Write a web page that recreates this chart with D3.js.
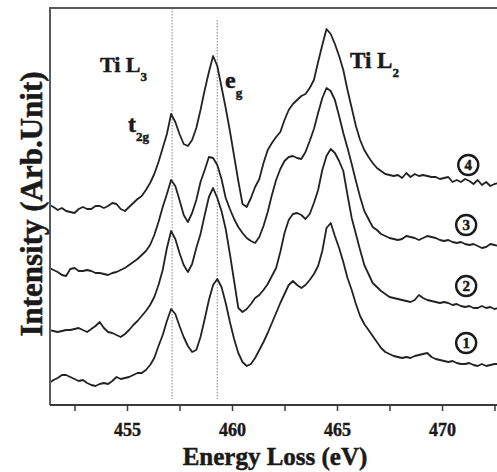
<!DOCTYPE html>
<html>
<head>
<meta charset="utf-8">
<script src="https://cdn.jsdelivr.net/npm/d3@7"></script>
<style>
  body { margin: 0; background: #fff; }
  svg { display: block; }
  text { font-family: "Liberation Serif", "Times New Roman", serif; font-weight: bold; fill: #1a1a1a; stroke: #1a1a1a; stroke-width: 0.5px; }
</style>
</head>
<body>
<svg id="chart" width="497" height="472"></svg>
<script>
// energy grid (eV), shared by all four spectra
const energy = [
  451.3, 451.5, 451.7, 451.9, 452.1, 452.3, 452.5, 452.7, 452.9, 453.1,
  453.3, 453.5, 453.7, 453.9, 454.1, 454.3, 454.5, 454.7, 454.9, 455.1,
  455.3, 455.5, 455.7, 455.9, 456.1, 456.3, 456.5, 456.7, 456.9, 457.1,
  457.3, 457.5, 457.7, 457.9, 458.1, 458.3, 458.5, 458.7, 458.9, 459.1,
  459.3, 459.5, 459.7, 459.9, 460.1, 460.3, 460.5, 460.7, 460.9, 461.1,
  461.3, 461.5, 461.7, 461.9, 462.1, 462.3, 462.5, 462.7, 462.9, 463.1,
  463.3, 463.5, 463.7, 463.9, 464.1, 464.3, 464.5, 464.7, 464.9, 465.1,
  465.3, 465.5, 465.7, 465.9, 466.1, 466.3, 466.5, 466.7, 466.9, 467.1,
  467.3, 467.5, 467.7, 467.9, 468.1, 468.3, 468.5, 468.7, 468.9, 469.1,
  469.3, 469.5, 469.7, 469.9, 470.1, 470.3, 470.5, 470.7, 470.9, 471.1,
  471.3, 471.5, 471.7, 471.9, 472.1, 472.3, 472.5, 472.7
];

// stacked intensities (arb. units, offsets included)
const spectrum4 = [
  200, 198, 195, 197, 194, 193, 192, 196, 198, 196,
  196, 199, 199, 197, 199, 202, 201, 196, 194, 198,
  202, 206, 209, 215, 222, 231, 243, 257, 271, 291,
  283, 271, 261, 259, 265, 277, 295, 315, 333, 349,
  339, 318, 297, 274, 249, 224, 201, 198, 207, 218,
  226, 242, 255, 262, 268, 273, 285, 295, 301, 305,
  309, 311, 317, 325, 343, 360, 376, 371, 361, 349,
  335, 315, 297, 279, 265, 255, 248, 242, 237, 234,
  231, 230, 229, 230, 227, 232, 228, 231, 229, 230,
  229, 228, 228, 226, 227, 228, 223, 225, 223, 226,
  224, 221, 225, 220, 223, 219, 221, 222
];
const spectrum3 = [
  137, 135, 133, 130, 129, 136, 137, 134, 134, 135,
  134, 132, 132, 131, 130, 132, 133, 135, 137, 140,
  143, 146, 150, 154, 160, 170, 183, 198, 211, 225,
  219, 205, 190, 183, 192, 205, 223, 235, 248, 247,
  240, 226, 207, 196, 186, 178, 172, 167, 164, 162,
  168, 179, 193, 210, 225, 236, 244, 248, 249, 247,
  246, 253, 264, 276, 292, 307, 317, 314, 305, 289,
  272, 257, 241, 224, 208, 194, 186, 178, 175, 171,
  169, 167, 166, 165, 166, 169, 168, 167, 165, 167,
  169, 168, 167, 165, 164, 165, 163, 162, 163, 161,
  160, 161, 159, 157, 158, 161, 160, 159
];
const spectrum2 = [
  75, 74, 73, 74, 75, 75, 76, 77, 75, 73,
  76, 79, 83, 77, 73, 72, 70, 68, 71, 75,
  80, 84, 89, 94, 100, 108, 120, 135, 157, 174,
  166, 152, 140, 133, 141, 157, 171, 190, 208, 217,
  207, 194, 176, 151, 124, 97, 93, 96, 101, 107,
  110, 115, 121, 129, 137, 153, 172, 185, 191, 192,
  190, 186, 191, 202, 215, 235, 249, 256, 252, 244,
  234, 210, 187, 171, 155, 140, 131, 122, 118, 114,
  111, 108, 107, 106, 105, 104, 103, 105, 110, 107,
  105, 104, 103, 102, 103, 102, 100, 101, 99, 98,
  99, 97, 97, 99, 97, 98, 96, 97
];
const spectrum1 = [
  22, 25, 27, 30, 30, 28, 26, 24, 25, 22,
  20, 19, 21, 22, 21, 24, 28, 26, 27, 28,
  30, 32, 32, 35, 40, 47, 59, 70, 84, 96,
  91, 79, 68, 59, 53, 55, 68, 86, 105, 120,
  126, 118, 102, 83, 66, 52, 43, 39, 41, 47,
  55, 63, 72, 82, 92, 102, 111, 120, 124, 120,
  117, 120, 125, 131, 139, 154, 177, 182, 169, 157,
  143, 127, 115, 101, 89, 81, 75, 69, 63, 57,
  53, 51, 49, 48, 47, 48, 47, 49, 50, 51,
  52, 48, 46, 45, 44, 43, 44, 42, 41, 41,
  42, 40, 39, 41, 39, 40, 41, 41
];

const spectra = [spectrum1, spectrum2, spectrum3, spectrum4];
const spectrumLabels = ['1', '2', '3', '4'];
// where each circled number sits: [eV, intensity]
const spectrumLabelPos = [[471.15, 62], [471.15, 119], [471.15, 180], [471.25, 240]];

const xTicks = [452.5, 455, 457.5, 460, 462.5, 465, 467.5, 470, 472.5];
const xTickLabels = [455, 460, 465, 470];
const markerLines = [457.15, 459.3];

const width = 497;
const height = 472;
const margin = { top: 8, left: 50, bottom: 67 };

const svg = d3.select('#chart');

const x = d3.scaleLinear()
  .domain([451.333, 474])
  .range([margin.left, margin.left + 22.667 * 21]);
const y = d3.scaleLinear()
  .domain([0, 397])
  .range([height - margin.bottom, margin.top]);

svg.append('defs').append('clipPath').attr('id', 'plot-clip')
  .append('rect')
  .attr('x', margin.left)
  .attr('y', margin.top)
  .attr('width', width - margin.left)
  .attr('height', height - margin.bottom - margin.top);

// dotted guide lines at t2g / eg
svg.append('g')
  .selectAll('line')
  .data(markerLines)
  .join('line')
  .attr('x1', (d) => x(d))
  .attr('x2', (d) => x(d))
  .attr('y1', (d, i) => margin.top + i * 12)
  .attr('y2', height - margin.bottom - 6)
  .style('stroke', '#a0a0a0')
  .style('stroke-width', 1.3)
  .style('stroke-dasharray', '1.5,1.5');

// spectra
const line = d3.line()
  .x((d, i) => x(energy[i]))
  .y((d) => y(d));

svg.append('g')
  .attr('clip-path', 'url(#plot-clip)')
  .selectAll('path')
  .data(spectra)
  .join('path')
  .attr('d', line)
  .style('fill', 'none')
  .style('stroke', '#222')
  .style('stroke-width', 1.8)
  .style('stroke-linejoin', 'round');

// frame: top and left borders
svg.append('path')
  .attr('d', `M${width},${margin.top}H${margin.left}V${height - margin.bottom}`)
  .style('fill', 'none')
  .style('stroke', '#5a5a5a')
  .style('stroke-width', 2);

// x axis
const xAxis = d3.axisBottom(x)
  .tickValues(xTicks)
  .tickSize(6)
  .tickSizeOuter(0)
  .tickPadding(12)
  .tickFormat((d) => (xTickLabels.includes(d) ? d : ''));

const axisG = svg.append('g')
  .attr('transform', `translate(0,${height - margin.bottom})`)
  .call(xAxis);
axisG.select('.domain')
  .attr('d', `M${margin.left},0H${width}`)
  .style('stroke', '#3a3a3a')
  .style('stroke-width', 2);
axisG.selectAll('.tick line').style('stroke', '#3a3a3a').style('stroke-width', 1.5);
axisG.selectAll('.tick text')
  .style('font-family', '"Liberation Serif", serif')
  .style('font-weight', 'bold')
  .style('font-size', '18px')
  .style('fill', '#1a1a1a')
  .style('stroke', '#1a1a1a')
  .style('stroke-width', '0.4px');

// axis titles
svg.append('text')
  .attr('x', 275)
  .attr('y', 465)
  .attr('text-anchor', 'middle')
  .style('font-size', '25px')
  .text('Energy Loss (eV)');

svg.append('text')
  .attr('transform', 'translate(42,204) rotate(-90)')
  .attr('text-anchor', 'middle')
  .style('font-size', '31px')
  .text('Intensity (Arb.Unit)');

// peak annotations: [text, subscript, eV, intensity, size]
const annotations = [
  ['Ti L', '3', 453.71, 333, 22],
  ['Ti L', '2', 465.62, 337, 23],
  ['t', '2g', 455.05, 273, 24],
  ['e', 'g', 459.67, 317, 24]
];

annotations.forEach(([main, sub, ev, val, size]) => {
  const t = svg.append('text')
    .attr('x', x(ev))
    .attr('y', y(val))
    .style('font-size', `${size}px`);
  t.append('tspan').text(main);
  t.append('tspan')
    .attr('dy', 9)
    .style('font-size', '13px')
    .text(sub);
});

// circled spectrum numbers
const badges = svg.append('g')
  .selectAll('g')
  .data(spectrumLabels)
  .join('g')
  .attr('transform', (d, i) => `translate(${x(spectrumLabelPos[i][0])},${y(spectrumLabelPos[i][1])})`);

badges.append('circle')
  .attr('r', 10)
  .style('fill', '#fff')
  .style('stroke', '#1a1a1a')
  .style('stroke-width', 2.4);

badges.append('text')
  .attr('text-anchor', 'middle')
  .attr('dy', '0.35em')
  .style('font-size', '15px')
  .text((d) => d);
</script>
</body>
</html>
